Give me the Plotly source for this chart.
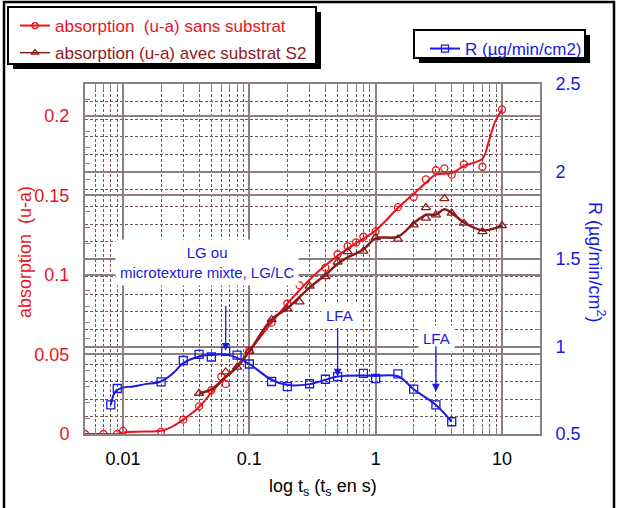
import numpy as np
import plotly.graph_objects as go

RED = '#e8141c'
DRED = '#8b1a1a'
BLUE = '#1a1ae0'
GRID = '#8c8080'
MINOR = '#6e5555'
FONT = 'Liberation Sans, Arial, sans-serif'

# ---- measured points: absorption without substrate ----
t_sans = [0.005, 0.007, 0.009, 0.01, 0.02, 0.03, 0.04, 0.05, 0.06, 0.065, 0.1, 0.15, 0.2, 0.25,
          0.4, 0.5, 0.6, 0.7, 0.8, 1, 1.5, 2, 2.5, 3, 3.5, 4, 5, 7, 10]
abs_sans = [0.0, 0.0, 0.0, 0.002, 0.0015, 0.009, 0.0174, 0.0275, 0.036, 0.0315, 0.0525, 0.070, 0.082, 0.0934,
            0.1046, 0.113, 0.118, 0.1204, 0.124, 0.1274, 0.1426, 0.149, 0.160, 0.1658, 0.167, 0.163, 0.1695, 0.168, 0.204]
# smoothed curve drawn through them
tf_sans = [0.005, 0.007, 0.009, 0.01, 0.015, 0.02, 0.025, 0.03, 0.04, 0.05, 0.06, 0.07, 0.08, 0.1, 0.15, 0.2,
           0.3, 0.4, 0.5, 0.7, 1, 1.5, 2, 2.5, 3, 4, 5, 7, 7.8, 8.8, 10]
af_sans = [0.0, 0.0, 0.0, 0.001, 0.0015, 0.002, 0.005, 0.009, 0.017, 0.026, 0.033, 0.038, 0.043, 0.052, 0.07, 0.082,
           0.097, 0.106, 0.112, 0.12, 0.128, 0.142, 0.151, 0.158, 0.163, 0.164, 0.1685, 0.173, 0.183, 0.196, 0.204]

# ---- measured points: absorption with substrate S2 ----
t_s2 = [0.04, 0.065, 0.08, 0.1, 0.15, 0.2, 0.25, 0.3, 0.4, 0.5, 0.6, 0.8, 1, 1.5, 2, 2.5, 2.5, 3, 3.5, 4, 5, 7, 10]
abs_s2 = [0.0256, 0.039, 0.042, 0.052, 0.072, 0.0786, 0.083, 0.093, 0.099, 0.108, 0.1146, 0.115, 0.1235, 0.1225,
          0.1315, 0.1423, 0.1357, 0.1377, 0.148, 0.1388, 0.1325, 0.1272, 0.131]
tf_s2 = [0.04, 0.05, 0.065, 0.08, 0.1, 0.15, 0.2, 0.3, 0.4, 0.5, 0.6, 0.8, 1, 1.5, 2, 2.5, 3, 3.5, 4, 5, 7, 10]
af_s2 = [0.0256, 0.028, 0.036, 0.042, 0.052, 0.072, 0.079, 0.092, 0.100, 0.107, 0.111, 0.116, 0.123, 0.124,
         0.1325, 0.1377, 0.138, 0.1413, 0.139, 0.133, 0.128, 0.131]

# ---- measured points: R ----
t_R = [0.008, 0.009, 0.02, 0.03, 0.04, 0.05, 0.065, 0.08, 0.1, 0.15, 0.2, 0.3, 0.4, 0.5, 0.8, 1, 1.5, 2, 3, 4]
R = [0.666, 0.76, 0.798, 0.92, 0.955, 0.94, 0.972, 0.951, 0.90, 0.80, 0.771, 0.787, 0.813, 0.828, 0.846, 0.817,
     0.844, 0.756, 0.666, 0.57]
tf_R = [0.008, 0.0085, 0.009, 0.01, 0.012, 0.015, 0.02, 0.025, 0.03, 0.04, 0.05, 0.065, 0.08, 0.1, 0.15, 0.2,
        0.3, 0.4, 0.5, 0.8, 1, 1.5, 2, 3, 4]
Rf = [0.666, 0.73, 0.752, 0.765, 0.772, 0.785, 0.80, 0.848, 0.905, 0.943, 0.952, 0.955, 0.935, 0.90, 0.81, 0.78,
      0.785, 0.81, 0.828, 0.834, 0.832, 0.83, 0.756, 0.666, 0.57]

# axis ticks
x_ticks = [0.01, 0.1, 1, 10]
x_ticklabels = ['0.01', '0.1', '1', '10']
y_ticks = [0, 0.05, 0.1, 0.15, 0.2]
y_ticklabels = ['0', '0.05', '0.1', '0.15', '0.2']
y2_ticks = [0.5, 1, 1.5, 2, 2.5]
y2_ticklabels = ['0.5', '1', '1.5', '2', '2.5']

# annotations: (text, t, R)
notes_text = ['LG ou<br>microtexture mixte, LG/LC', 'LFA', 'LFA']
notes_t = [0.046, 0.52, 3.05]
notes_R = [1.48, 1.176, 1.048]
arrows_t = [0.065, 0.5, 3.0]
arrows_tail_R = [1.24, 1.115, 1.01]
arrows_head_R = [0.976, 0.828, 0.742]

name_sans = 'absorption\u00a0 (u-a) sans substrat'
name_s2 = 'absorption (u-a) avec substrat S2'
name_R = 'R (µg/min/cm2)'

fig = go.Figure()

fig.add_trace(go.Scatter(x=tf_sans, y=af_sans, mode='lines', line=dict(color=RED, width=2, shape='spline'),
                         showlegend=False, hoverinfo='skip'))
fig.add_trace(go.Scatter(x=t_sans, y=abs_sans, mode='markers', showlegend=False,
                         marker=dict(symbol='circle-open', size=7, color=RED, line=dict(width=1.3))))
fig.add_trace(go.Scatter(x=tf_s2, y=af_s2, mode='lines', line=dict(color=DRED, width=2.5, shape='spline'),
                         showlegend=False, hoverinfo='skip'))
fig.add_trace(go.Scatter(x=t_s2, y=abs_s2, mode='markers', showlegend=False,
                         marker=dict(symbol='triangle-up-open', size=8, color=DRED, line=dict(width=1.3))))
fig.add_trace(go.Scatter(x=tf_R, y=Rf, yaxis='y2', mode='lines', line=dict(color=BLUE, width=2, shape='spline'),
                         showlegend=False, hoverinfo='skip'))
fig.add_trace(go.Scatter(x=t_R, y=R, yaxis='y2', mode='markers', showlegend=False,
                         marker=dict(symbol='square-open', size=8, color=BLUE, line=dict(width=1.3))))

# legend entries
fig.add_trace(go.Scatter(x=[None], y=[None], mode='lines+markers', legend='legend', legendgroup='a',
                         name=f"<span style='color:{RED}'>{name_sans}</span>",
                         line=dict(color=RED, width=2),
                         marker=dict(symbol='circle-open', size=6, color=RED, line=dict(width=1.3))))
fig.add_trace(go.Scatter(x=[None], y=[None], mode='lines+markers', legend='legend', legendgroup='b',
                         name=f"<span style='color:{DRED}'>{name_s2}</span>",
                         line=dict(color=DRED, width=1.5),
                         marker=dict(symbol='triangle-up-open', size=6, color=DRED, line=dict(width=1.3))))
fig.add_trace(go.Scatter(x=[None], y=[None], yaxis='y2', mode='lines+markers', legend='legend2',
                         name=name_R, line=dict(color=BLUE, width=2),
                         marker=dict(symbol='square-open', size=7, color=BLUE, line=dict(width=1.3))))

# plot area in pixels: x 85..540, y 84..434
W, H = 617, 508
L, Rr, T, B = 85, 540, 84, 434
pw, ph = Rr - L, B - T
def px(xp):
    return (xp - L) / pw
def py(yp):
    return (B - yp) / ph

annotations = []
for txt, t, r in zip(notes_text, notes_t, notes_R):
    annotations.append(dict(x=np.log10(t), y=r, xref='x', yref='y2', text=txt, showarrow=False,
                            font=dict(family=FONT, size=15, color=BLUE), bgcolor='white',
                            borderpad=4, xanchor='center', yanchor='middle'))
for t, r0, r1 in zip(arrows_t, arrows_tail_R, arrows_head_R):
    annotations.append(dict(x=np.log10(t), y=r1, xref='x', yref='y2', ax=np.log10(t), ay=r0,
                            axref='x', ayref='y2', text='', showarrow=True, arrowhead=2,
                            arrowsize=1.2, arrowwidth=1.3, arrowcolor=BLUE))
# axis titles
annotations.append(dict(x=px(25), y=py(252), xref='paper', yref='paper', text='absorption\u00a0 (u-a)',
                        textangle=-90, showarrow=False, xanchor='center', yanchor='middle',
                        font=dict(family=FONT, size=18, color=RED)))
annotations.append(dict(x=px(597), y=py(262), xref='paper', yref='paper', text='R (µg/min/cm<sup>2</sup>)',
                        textangle=90, showarrow=False, xanchor='center', yanchor='middle',
                        font=dict(family=FONT, size=18, color=BLUE)))
annotations.append(dict(x=px(323), y=py(487), xref='paper', yref='paper',
                        text='log t<sub>s</sub> (t<sub>s</sub> en s)', xanchor='center', yanchor='middle',
                        showarrow=False, font=dict(family=FONT, size=18, color='black')))

shapes = [
    # outer frame
    dict(type='rect', xref='paper', yref='paper', x0=px(4), x1=px(614), y0=py(520), y1=py(2),
         line=dict(color='black', width=2.5), layer='below'),
    # legend boxes with drop shadows
    dict(type='rect', xref='paper', yref='paper', x0=px(13), x1=px(321), y0=py(69), y1=py(12),
         fillcolor='black', line=dict(width=0), layer='above'),
    dict(type='rect', xref='paper', yref='paper', x0=px(8), x1=px(316), y0=py(64), y1=py(7),
         fillcolor='white', line=dict(color='black', width=2), layer='above'),
    dict(type='rect', xref='paper', yref='paper', x0=px(419), x1=px(590), y0=py(63), y1=py(35),
         fillcolor='black', line=dict(width=0), layer='above'),
    dict(type='rect', xref='paper', yref='paper', x0=px(414), x1=px(585), y0=py(58), y1=py(30),
         fillcolor='white', line=dict(color='black', width=2), layer='above'),
]

fig.update_layout(
    width=W, height=H,
    margin=dict(l=L, r=W - Rr, t=T, b=H - B, autoexpand=False),
    paper_bgcolor='white', plot_bgcolor='white',
    font=dict(family=FONT, size=17),
    xaxis=dict(type='log', range=[np.log10(0.005), np.log10(20)], tickvals=x_ticks, ticktext=x_ticklabels,
               tickfont=dict(size=18, color='black'), showgrid=True, gridcolor=GRID, gridwidth=1.5,
               ticks='inside', ticklen=6, tickcolor=GRID, showline=True, linecolor=GRID, linewidth=2,
               mirror='allticks', ticklabelstandoff=7, zeroline=False,
               minor=dict(dtick='D1', showgrid=True, gridcolor=MINOR, griddash='3px,2px', gridwidth=1,
                          ticks='inside', ticklen=5, tickcolor=GRID)),
    yaxis=dict(range=[0, 0.22], tickvals=y_ticks, ticktext=y_ticklabels,
               tickfont=dict(size=18, color=RED), showgrid=True, gridcolor=GRID, gridwidth=1.5,
               ticks='inside', ticklen=6, tickcolor=GRID, showline=True, linecolor=GRID, linewidth=2,
               ticklabelstandoff=10, zeroline=False,
               minor=dict(dtick=0.01, ticks='inside', ticklen=5, tickcolor=GRID, showgrid=False)),
    yaxis2=dict(range=[0.5, 2.5], tickvals=y2_ticks, ticktext=y2_ticklabels, overlaying='y', side='right',
                tickfont=dict(size=18, color=BLUE), showgrid=True, gridcolor=GRID, gridwidth=1.5,
                ticks='inside', ticklen=6, tickcolor=GRID, showline=True, linecolor=GRID, linewidth=2,
                ticklabelstandoff=10, zeroline=False,
                minor=dict(dtick=0.1, showgrid=True, gridcolor=MINOR, griddash='3px,2px', gridwidth=1,
                           ticks='inside', ticklen=4, tickcolor=GRID)),
    legend=dict(x=px(15), y=py(8), xanchor='left', yanchor='top', bgcolor='rgba(0,0,0,0)',
                borderwidth=0, font=dict(family=FONT, size=17), tracegroupgap=2, itemwidth=30),
    legend2=dict(x=px(425), y=py(31), xanchor='left', yanchor='top', bgcolor='rgba(0,0,0,0)',
                 borderwidth=0, font=dict(family=FONT, size=17, color=BLUE), itemwidth=30),
    annotations=annotations,
    shapes=shapes,
    showlegend=True,
)

fig.write_html('out.html', config={'displayModeBar': False},
               post_script="document.body.style.margin='0px';")
